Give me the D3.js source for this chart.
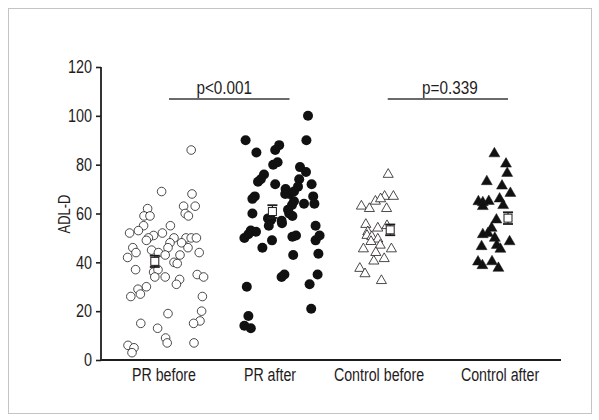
<!DOCTYPE html>
<html>
<head>
<meta charset="utf-8">
<script src="https://cdn.jsdelivr.net/npm/d3@7"></script>
<style>
  body { margin: 0; background: #fff; }
  text { font-family: "Liberation Sans", Arial, sans-serif; fill: #1f1c1d; }
</style>
</head>
<body>
<div id="chart"></div>
<script>
// categories and values
var groups = ["PR before", "PR after", "Control before", "Control after"];

// each point: [horizontal spread, ADL-D]
var prBefore = [
  [6.8, 86], [-0.6, 69], [7, 68], [-4.1, 62], [4.9, 63], [7.8, 63], [-5, 59], [-3.5, 59], [5.3, 60], [6.1, 59],
  [1.6, 55], [-5.1, 55], [-6.4, 53], [-8.6, 52], [-0.4, 52], [-2.6, 51], [-3.9, 50], [-4.4, 49], [2.5, 50], [5.5, 50], [6.8, 50], [8.1, 50],
  [1.5, 48], [4.4, 48], [-7.8, 46], [6, 46], [1, 46], [-7, 44], [-3.1, 45], [-1.4, 44], [8.8, 44], [-9.1, 42], [0.3, 43], [4, 43],
  [2.5, 40], [3.3, 39.5], [-7.1, 37], [-2.6, 36], [-1.5, 37], [-2.3, 34], [0.3, 34], [8.3, 35], [9.9, 34], [3.9, 33], [3.1, 31],
  [-4.4, 30], [-6.5, 29], [-5.9, 27], [-8.3, 26], [9.6, 26], [9.4, 20], [1, 19], [-5.8, 15], [9, 16], [7.4, 15], [-1.6, 13],
  [0.4, 9], [0.8, 7], [7.5, 7], [-9, 6], [-7.5, 5], [-8, 3]
];
var prAfter = [
  [9.5, 100], [-6.1, 90], [9.1, 90], [-3.4, 85], [1.3, 86], [2.3, 88], [0.8, 80], [1.9, 81], [7.5, 79], [9, 77],
  [-1.5, 76], [-2.3, 74], [-3, 73], [1.3, 72], [7.3, 74], [7, 71], [10.4, 72], [3.9, 70], [-3.8, 67], [-4.4, 66], [4.9, 68], [10.8, 67],
  [6, 65], [8.5, 64], [11.1, 64], [-4.4, 60], [-0.5, 58], [0.3, 57.5], [2.9, 57], [5.6, 59], [4.8, 60], [-0.3, 55], [3, 56], [11.4, 55],
  [-4.8, 53], [-3.5, 52.5], [-6.4, 50], [-5.4, 51.5], [0.5, 49], [-1.9, 46], [5.6, 50.5], [6.5, 51], [11.4, 49], [12.4, 51],
  [5.8, 43], [12.1, 43.5], [2.9, 34], [3.6, 35], [11.9, 35], [9.9, 31], [-5.8, 30], [10.3, 21], [-5.4, 18], [-6.4, 14], [-4.8, 13],
  [6, 69], [3.8, 68], [5.5, 63.5], [4.5, 61.5]
];
var controlBefore = [
  [2.3, 76], [-4.4, 63], [-2.4, 62], [-0.9, 65], [1.4, 67], [3.6, 67], [1.9, 62], [-3.3, 55.5], [-0.3, 54], [2, 55],
  [-2.8, 52.5], [-3, 51], [-1.8, 50.5], [-0.3, 49.5], [-2, 48.5], [0.3, 47], [-3.9, 45.5], [3.1, 45.5], [-0.8, 44], [1.3, 41.5],
  [-1.3, 40.5], [-4.8, 37.5], [-3.5, 35.3], [0.6, 32.5], [0.4, 66]
];
var controlAfter = [
  [-1.4, 84.5], [1.5, 80.3], [1.8, 76.5], [-3.3, 73.1], [0.5, 71.3], [2.6, 68.3], [-5.4, 64.9], [-4.3, 64.5], [-2.8, 65], [-0.1, 66],
  [0.8, 63.3], [-4.3, 62.9], [-0.9, 57.4], [-2.1, 54], [-3, 51.9], [-4.3, 51.4], [-1.3, 49.9], [2.4, 48.5], [-4.6, 46.5], [-0.8, 47],
  [0.1, 45.4], [-5.5, 40.2], [-4.4, 38.7], [-2, 40.3], [-0.4, 37.6]
];

// group mean +/- SEM and the spread position of the mean marker
var means = [40.4, 60.8, 53.3, 58.1];
var sems = [2.3, 2.6, 2.2, 2.4];
var meanSpread = [-2.3, 0.6, 2.8, 2];

var yTicks = [0, 20, 40, 60, 80, 100, 120];

var comparisons = [
  { from: "PR before", to: "PR after", label: "p<0.001" },
  { from: "Control before", to: "Control after", label: "p=0.339" }
];

var allPoints = [prBefore, prAfter, controlBefore, controlAfter];

// svg size
var svgWidth = 599;
var svgHeight = 420;

var svg = d3.select("#chart")
  .append("svg")
  .attr("width", svgWidth)
  .attr("height", svgHeight);

// squeeze text horizontally to mimic the condensed face of the original
function condense(sel, factor) {
  sel.each(function() {
    var w = this.getComputedTextLength();
    d3.select(this)
      .attr("textLength", w * factor)
      .attr("lengthAdjust", "spacingAndGlyphs");
  });
}

// outer frame
svg.append("rect")
  .attr("x", 8.5)
  .attr("y", 8.5)
  .attr("width", 583)
  .attr("height", 405)
  .attr("fill", "none")
  .attr("stroke", "#c4c4c4")
  .attr("stroke-width", 1);

// scales
var xScale = d3.scaleOrdinal()
  .domain(groups)
  .range([164, 270, 379, 500]);

var spreadScale = d3.scaleLinear()
  .domain([-10, 10])
  .range([-40, 40]);

var yScale = d3.scaleLinear()
  .domain([0, 120])
  .range([360, 67]);

var axisLeft = 101;
var axisRight = 561;

// y axis
var leftAxis = d3.axisLeft(yScale)
  .tickValues(yTicks)
  .tickSize(5)
  .tickPadding(4);

var yAxis = svg.append("g")
  .attr("transform", `translate(${axisLeft}, 0)`)
  .call(leftAxis);

yAxis.select(".domain").remove();
yAxis.selectAll(".tick line").attr("stroke", "#1f1c1d").attr("stroke-width", 1.6);
yAxis.selectAll(".tick text")
  .attr("font-size", 18)
  .attr("font-family", null)
  .attr("fill", "#1f1c1d")
  .call(condense, 0.8);

svg.append("line")
  .attr("x1", axisLeft).attr("x2", axisLeft)
  .attr("y1", yScale(120)).attr("y2", yScale(0) + 1)
  .attr("stroke", "#1f1c1d").attr("stroke-width", 1.8);

// x axis line (no ticks)
svg.append("line")
  .attr("x1", axisLeft).attr("x2", axisRight)
  .attr("y1", yScale(0)).attr("y2", yScale(0))
  .attr("stroke", "#1f1c1d").attr("stroke-width", 1.8);

// category labels
svg.selectAll(".cat")
  .data(groups)
  .enter()
  .append("text")
  .attr("class", "cat")
  .attr("x", d => xScale(d))
  .attr("y", 381)
  .attr("text-anchor", "middle")
  .attr("font-size", 18)
  .text(d => d)
  .call(condense, 0.79);

// y axis title
svg.append("text")
  .attr("transform", "translate(70, 214) rotate(-90)")
  .attr("text-anchor", "middle")
  .attr("font-size", 17)
  .text("ADL-D")
  .call(condense, 0.76);

// points
var circleR = 4.3;
var dotR = 5;

allPoints.forEach(function(pts, i) {
  var g = svg.append("g");
  var cx = xScale(groups[i]);
  if (i === 0) {
    g.selectAll("circle")
      .data(pts)
      .enter()
      .append("circle")
      .attr("cx", d => cx + spreadScale(d[0]))
      .attr("cy", d => yScale(d[1]))
      .attr("r", circleR)
      .attr("fill", "#fff")
      .attr("stroke", "#1f1c1d")
      .attr("stroke-width", 0.8);
  }
  else if (i === 1) {
    g.selectAll("circle")
      .data(pts)
      .enter()
      .append("circle")
      .attr("cx", d => cx + spreadScale(d[0]))
      .attr("cy", d => yScale(d[1]))
      .attr("r", dotR)
      .attr("fill", "#111");
  }
  else {
    var filled = i === 3;
    var tri = d3.symbol().type(d3.symbolTriangle).size(filled ? 52 : 44);
    g.selectAll("path")
      .data(pts)
      .enter()
      .append("path")
      .attr("transform", d => `translate(${cx + spreadScale(d[0])}, ${yScale(d[1])})`)
      .attr("d", tri)
      .attr("fill", filled ? "#111" : "#fff")
      .attr("stroke", "#1f1c1d")
      .attr("stroke-width", filled ? 0.5 : 0.8);
  }
});

// mean markers with SEM bars
var meanGroup = svg.append("g");
means.forEach(function(m, i) {
  var mx = xScale(groups[i]) + spreadScale(meanSpread[i]);
  var top = yScale(m + sems[i]);
  var bottom = yScale(m - sems[i]);
  meanGroup.append("line")
    .attr("x1", mx).attr("x2", mx)
    .attr("y1", top).attr("y2", bottom)
    .attr("stroke", "#1f1c1d").attr("stroke-width", 1.2);
  meanGroup.selectAll(null)
    .data([top, bottom])
    .enter()
    .append("line")
    .attr("x1", mx - 5).attr("x2", mx + 5)
    .attr("y1", d => d).attr("y2", d => d)
    .attr("stroke", "#1f1c1d").attr("stroke-width", 1.8);
  meanGroup.append("rect")
    .attr("x", mx - 4).attr("y", yScale(m) - 4)
    .attr("width", 8).attr("height", 8)
    .attr("fill", "#fff")
    .attr("stroke", "#1f1c1d")
    .attr("stroke-width", 1);
});

// significance bars
var barY = 99;
var barPad = [[5, 19.5], [8.7, 8]];
var labelShift = [-5, 2];
comparisons.forEach(function(c, i) {
  var x1 = xScale(c.from) + barPad[i][0];
  var x2 = xScale(c.to) + barPad[i][1];
  svg.append("line")
    .attr("x1", x1).attr("x2", x2)
    .attr("y1", barY).attr("y2", barY)
    .attr("stroke", "#3a3a3a").attr("stroke-width", 1.5);
  svg.append("text")
    .attr("x", (x1 + x2) / 2 + labelShift[i])
    .attr("y", barY - 5)
    .attr("text-anchor", "middle")
    .attr("font-size", 18)
    .text(c.label)
    .call(condense, 0.85);
});
</script>
</body>
</html>
